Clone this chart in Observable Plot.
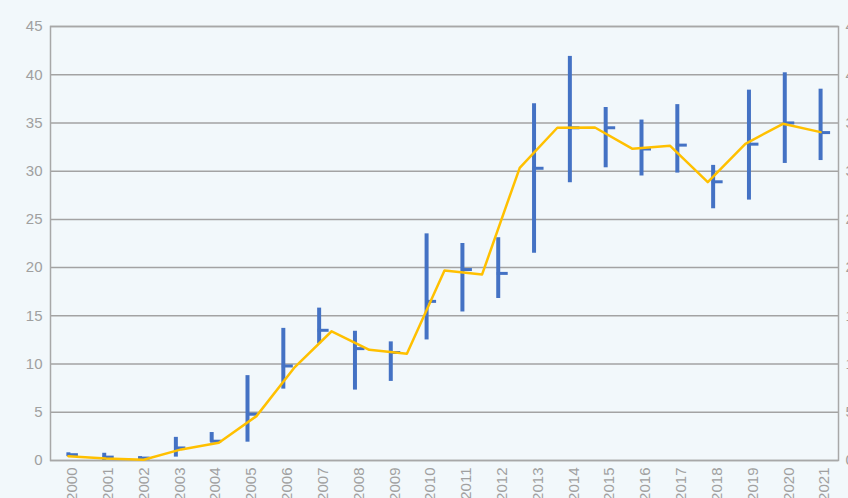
<!DOCTYPE html>
<html>
<head>
<meta charset="utf-8">
<script src="https://cdn.jsdelivr.net/npm/d3@7"></script>
<script src="https://cdn.jsdelivr.net/npm/@observablehq/plot@0.6"></script>
<style>
  html, body { margin: 0; padding: 0; background: #f2f8fb; overflow: hidden; }
  #wrap { position: relative; width: 848px; height: 498px; }
  #wrap svg { position: absolute; left: 0; top: 0; }
</style>
</head>
<body>
<div id="wrap"></div>
<script>
// ---- data ----
const years = ["2000","2001","2002","2003","2004","2005","2006","2007","2008","2009","2010",
               "2011","2012","2013","2014","2015","2016","2017","2018","2019","2020","2021"];
const high  = [0.8, 0.75, 0.4, 2.4, 2.9, 8.8, 13.7, 15.8, 13.4, 12.3, 23.5,
               22.5, 23.1, 37.0, 41.9, 36.6, 35.3, 36.9, 30.6, 38.4, 40.2, 38.5];
const low   = [0.4, 0.0, 0.05, 0.35, 1.9, 1.9, 7.4, 12.1, 7.3, 8.2, 12.5,
               15.4, 16.8, 21.5, 28.8, 30.35, 29.5, 29.8, 26.1, 27.0, 30.8, 31.1];
const close = [0.6, 0.35, 0.25, 1.3, 2.0, 4.8, 9.8, 13.5, 11.6, 11.2, 16.5,
               19.8, 19.4, 30.3, 34.5, 34.5, 32.3, 32.7, 28.9, 32.8, 35.0, 34.0];
// yellow line series (21 points, drawn on its own secondary category axis)
const lineVals = [0.45, 0.2, 0.07, 1.15, 1.85, 4.6, 9.6, 13.4, 11.48, 11.06, 19.7,
                  19.29, 30.35, 34.5, 34.53, 32.32, 32.63, 28.86, 32.84, 34.91, 34.05];
const yTicks = [0, 5, 10, 15, 20, 25, 30, 35, 40, 45];

const rows = years.map((y, i) => ({year: y, high: high[i], low: low[i], close: close[i]}));

const W = 848, H = 498;
const M = {marginLeft: 50, marginRight: 10, marginTop: 26, marginBottom: 38};
const font = "'Liberation Sans', Arial, sans-serif";
const grey = "#a0a0a0";
const blue = "#4472c4";
const gold = "#ffc000";

const bw = (W - M.marginLeft - M.marginRight) / years.length;

const main = Plot.plot({
  width: W, height: H, ...M,
  style: {background: "transparent", fontFamily: font, color: grey, overflow: "visible"},
  x: {type: "band", domain: years, padding: 0, round: false, label: null},
  y: {domain: [0, 45], label: null},
  marks: [
    Plot.gridY(yTicks, {stroke: "#a3a3a3", strokeOpacity: 1, strokeWidth: 1.5}),
    Plot.frame({stroke: "#a8a8a8", strokeWidth: 1.5}),
    Plot.ruleX(rows, {x: "year", y1: "low", y2: "high", stroke: blue, strokeWidth: 4}),
    Plot.tickY(rows, {x: "year", y: "close", stroke: blue, strokeWidth: 3,
                      insetLeft: bw / 2 - 1, insetRight: bw / 2 - 10}),
    Plot.axisY(yTicks, {anchor: "left", tickSize: 0, tickPadding: 8, fontSize: 15, color: grey, label: null}),
    Plot.axisY(yTicks, {anchor: "right", tickSize: 0, tickPadding: 7, fontSize: 15, color: grey, label: null}),
    Plot.axisX({anchor: "bottom", tickRotate: -90, tickSize: 0, tickPadding: 7,
                fontSize: 15, color: grey, dx: 4, label: null})
  ]
});

const xs = main.scale("x");
const x0 = xs.apply(years[0]) + xs.bandwidth / 2;
const x1 = xs.apply(years[years.length - 1]) + xs.bandwidth / 2;

const overlay = Plot.plot({
  width: W, height: H, ...M,
  style: {background: "transparent", fontFamily: font},
  x: {type: "point", domain: d3.range(lineVals.length), range: [x0, x1],
      padding: 0, round: false, axis: null},
  y: {domain: [0, 45], axis: null},
  marks: [
    Plot.line(lineVals, {x: (d, i) => i, y: d => d, stroke: gold, strokeWidth: 2.5})
  ]
});

const wrap = document.getElementById("wrap");
wrap.appendChild(main);
wrap.appendChild(overlay);
</script>
</body>
</html>
